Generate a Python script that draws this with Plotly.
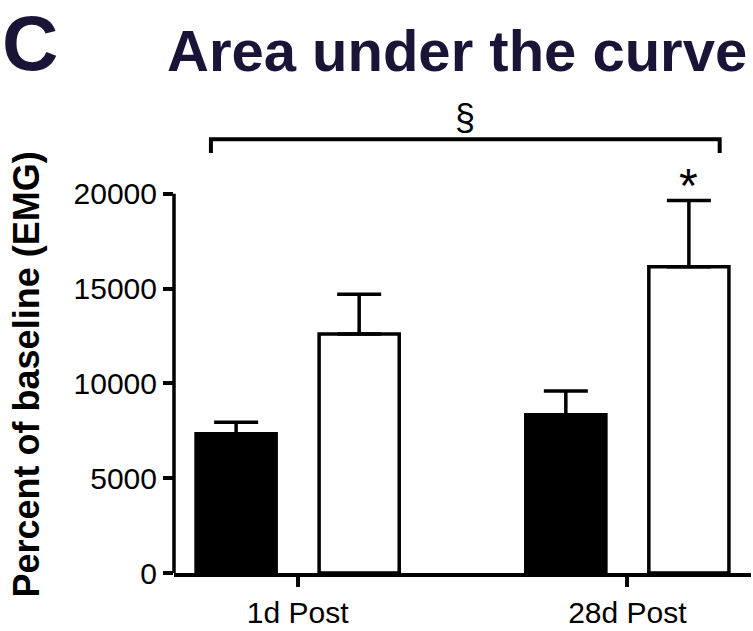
import plotly.graph_objects as go

# Groups on the x axis and the two conditions per group
categories = ["1d Post", "28d Post"]
black_means = [7350, 8350]
black_errors = [600, 1250]
white_means = [12600, 16150]
white_errors = [2100, 3500]

y_ticks = [0, 5000, 10000, 15000, 20000]
y_tick_labels = ["0", "5000", "10000", "15000", "20000"]

# Significance markings
bracket_y_low = 22150
bracket_y_high = 22880
bracket_x_left = -0.263
bracket_x_right = 1.28
section_y = 24000
star_offset = 800

NAVY = "#1b1437"
FONT = "Liberation Sans, Arial, sans-serif"
LW = 3.5

x_pos = list(range(len(categories)))

fig = go.Figure()

fig.add_trace(go.Bar(
    x=x_pos, y=black_means,
    marker=dict(color="black", line=dict(color="black", width=LW)),
    error_y=dict(type="data", array=black_errors, arrayminus=[0] * len(black_errors),
                 symmetric=False, color="black", thickness=LW, width=22),
    showlegend=False,
))
fig.add_trace(go.Bar(
    x=x_pos, y=white_means,
    marker=dict(color="white", line=dict(color="black", width=LW)),
    error_y=dict(type="data", array=white_errors, arrayminus=[0] * len(white_errors),
                 symmetric=False, color="black", thickness=LW, width=22),
    showlegend=False,
))

# Bracket spanning both groups
fig.add_trace(go.Scatter(
    x=[bracket_x_left, bracket_x_left, bracket_x_right, bracket_x_right],
    y=[bracket_y_low, bracket_y_high, bracket_y_high, bracket_y_low],
    mode="lines", line=dict(color="black", width=4),
    hoverinfo="skip", showlegend=False,
))

bargap = 0.2536
group_offset = (1 - bargap) / 4

annotations = [
    dict(text="§", x=(bracket_x_left + bracket_x_right) / 2, y=section_y,
         xref="x", yref="y", showarrow=False,
         font=dict(family=FONT, size=36, color="black")),
    dict(text="*", x=x_pos[1] + group_offset, y=white_means[1] + white_errors[1] + star_offset,
         xref="x", yref="y", showarrow=False, yanchor="middle",
         font=dict(family=FONT, size=48, color="black")),
    dict(text="<b>Area under the curve</b>", x=0.4905, y=1.103, xref="paper", yref="paper",
         showarrow=False, xanchor="center", yanchor="middle",
         font=dict(family=FONT, size=58, color=NAVY)),
    dict(text="<b>C</b>", x=-0.2496, y=1.118, xref="paper", yref="paper",
         showarrow=False, xanchor="center", yanchor="middle",
         font=dict(family=FONT, size=78, color=NAVY)),
    dict(text="<b>Percent of baseline (EMG)</b>", x=-0.2548, y=0.4188,
         xref="paper", yref="paper", showarrow=False, textangle=-90,
         xanchor="center", yanchor="middle",
         font=dict(family=FONT, size=36, color="black")),
]

fig.update_layout(
    width=753, height=631,
    margin=dict(l=174, r=2, t=99, b=53),
    paper_bgcolor="white", plot_bgcolor="white",
    barmode="group", bargap=bargap, bargroupgap=0.349,
    font=dict(family=FONT, color="black"),
    annotations=annotations,
    xaxis=dict(
        range=[-0.375, 1.375], tickmode="array", tickvals=x_pos, ticktext=categories,
        showline=True, linecolor="black", linewidth=LW, showgrid=False, zeroline=False,
        ticks="outside", ticklen=10, tickwidth=LW, tickcolor="black",
        tickfont=dict(family=FONT, size=30, color="black"),
    ),
    yaxis=dict(
        range=[0, 25000], tickmode="array", tickvals=y_ticks, ticktext=y_tick_labels,
        showline=False, showgrid=False, zeroline=False,
        ticks="outside", ticklen=10, tickwidth=LW, tickcolor="black",
        tickfont=dict(family=FONT, size=30, color="black"),
    ),
    shapes=[dict(type="line", xref="paper", yref="y", x0=0, x1=0,
                 y0=0, y1=y_ticks[-1], line=dict(color="black", width=LW))],
)

fig.write_html("out.html")
